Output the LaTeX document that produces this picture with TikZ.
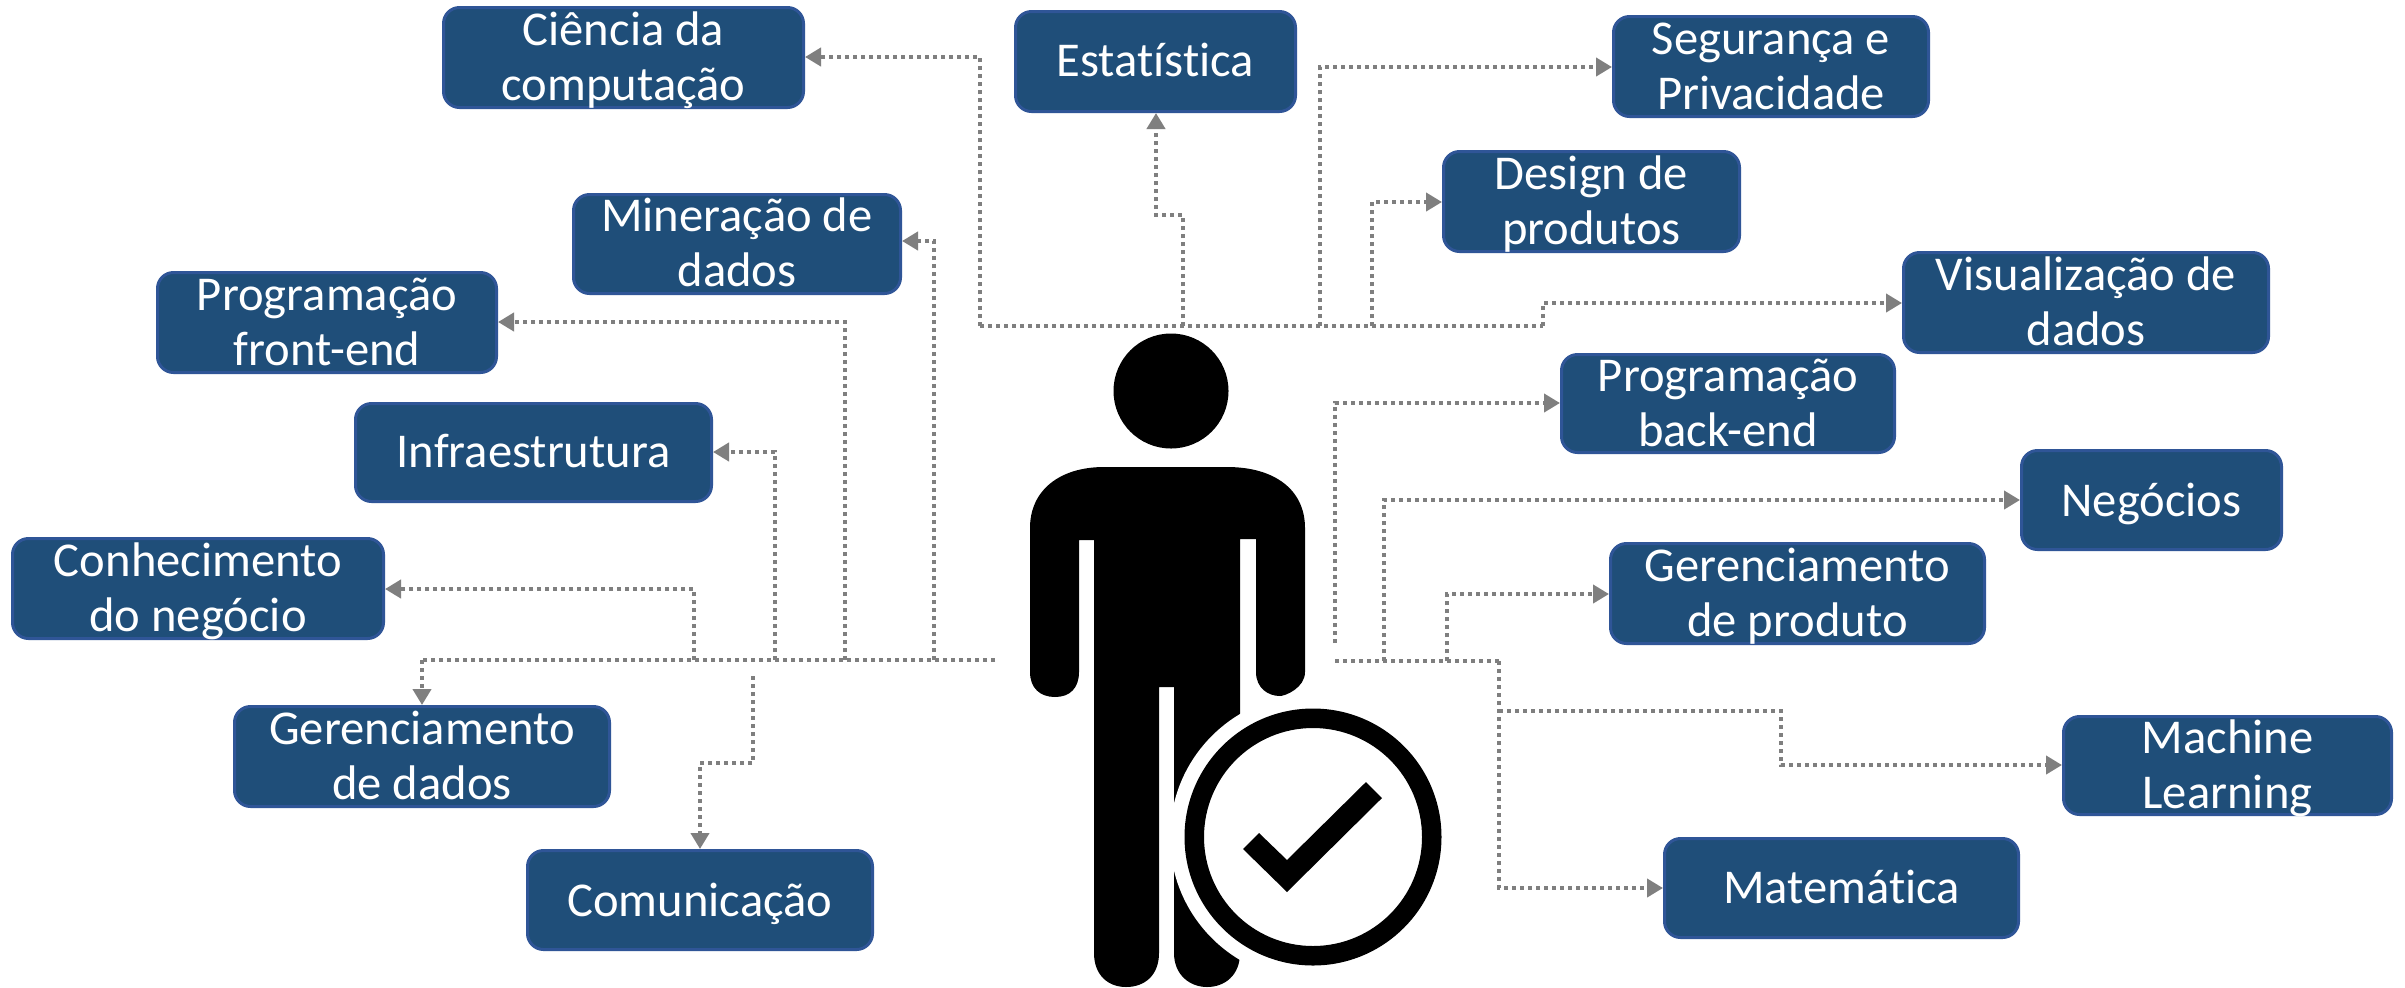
\documentclass[tikz,border=0pt]{standalone}
\usepackage{fontspec}
\setmainfont[Ligatures=NoCommon]{Carlito}
\usetikzlibrary{arrows.meta}
\definecolor{boxfill}{RGB}{31,78,121}
\definecolor{boxedge}{RGB}{47,85,151}
\definecolor{conncol}{RGB}{127,127,127}
\tikzset{
  box/.style={draw=boxedge,fill=boxfill,line width=1.5pt,rounded corners=8pt,text=white,align=center,
    inner xsep=0pt,inner ysep=-4pt,outer sep=0.75pt,font=\fontsize{24.3}{27.5}\selectfont},
  conn/.style={draw=conncol,line width=2pt,dash pattern=on 2pt off 2pt},
  arr/.style={conn,-{Triangle[length=8pt,width=9pt,fill=conncol,sep=0pt]}},
}
\newcommand\bx[7]{\node[box,minimum width={(#4-#2)*0.5pt-1.5pt},minimum height={(#5-#3)*0.5pt-1.5pt}] (#1) at ({(#2+#4)/2},{(#3+#5)/2}) {\rule{0pt}{\dimexpr20pt+#7pt\relax}#6\rule[-5pt]{0pt}{0pt}};}
\begin{document}
\begin{tikzpicture}[x=0.5pt,y=-0.5pt]
\useasboundingbox (0,0) rectangle (2405,987);
\fill[white] (0,0) rectangle (2405,987);
% person
\fill[black] (1171,391) circle [radius=57.5];
\fill[black] (1104,467) -- (1227,467) .. controls (1275,467) and (1305,490) .. (1305,528) -- (1305,672)
  .. controls (1305,688) and (1285,696) .. (1280,696) .. controls (1268,696) and (1256,688) .. (1256,672)
  -- (1256,539) -- (1240,539) -- (1240,953) .. controls (1240,975) and (1225,987) .. (1207,987)
  .. controls (1190,987) and (1174,975) .. (1174,953) -- (1174,687) -- (1159,687) -- (1159,953)
  .. controls (1159,975) and (1145,987) .. (1126,987) .. controls (1108,987) and (1094,975) .. (1094,953)
  -- (1094,540) -- (1079,540) -- (1079,672) .. controls (1079,688) and (1070,697) .. (1055,697)
  .. controls (1040,697) and (1030,688) .. (1030,672) -- (1030,528) .. controls (1030,490) and (1060,467) .. (1104,467) -- cycle;
\fill[white] (1313,837) circle [radius=143];
\fill[black,even odd rule] (1313,837) circle [radius=128.5] (1313,837) circle [radius=109];
\fill[black] (1243,849) -- (1259,833) -- (1287,860) -- (1366,782) -- (1382,798) -- (1287,892) -- cycle;
% boxes
\bx{ci}{442}{6}{805}{109}{Ciência da\\computação}{0}
\bx{es}{1014}{10}{1297}{113}{Estatística}{0}
\bx{se}{1612}{15}{1930}{118}{Segurança e\\Privacidade}{0}
\bx{de}{1442}{150}{1741}{253}{Design de\\produtos}{0}
\bx{vi}{1902}{251}{2270}{354}{Visualização de\\dados}{0}
\bx{ba}{1560}{353}{1896}{454}{Programação\\back-end}{0}
\bx{ne}{2020}{449}{2283}{551}{Negócios}{1}
\bx{gp}{1609}{542}{1986}{645}{Gerenciamento\\de produto}{0}
\bx{ma}{2062}{715}{2393}{816}{Machine\\Learning}{0}
\bx{mt}{1663}{837}{2020}{939}{Matemática}{0}
\bx{mi}{572}{193}{902}{295}{Mineração de\\dados}{0}
\bx{fr}{156}{271}{498}{374}{Programação\\front-end}{0}
\bx{in}{354}{402}{713}{503}{Infraestrutura}{0}
\bx{co}{11}{537}{385}{640}{Conhecimento\\do negócio}{0}
\bx{gd}{233}{705}{611}{808}{Gerenciamento\\de dados}{0}
\bx{cm}{526}{849}{874}{951}{Comunicação}{1}
% junctions
\coordinate (tL) at (980,326);
\coordinate (tE) at (1183,326);
\coordinate (eB) at (1156,215);
\coordinate (tS) at (1320,326);
\coordinate (tD) at (1372,326);
\coordinate (tV) at (1543,326);
\coordinate (lR) at (995,660);
\coordinate (lG) at (422,660);
\coordinate (lC) at (694,660);
\coordinate (lI) at (775,660);
\coordinate (lF) at (845,660);
\coordinate (lM) at (934,660);
\coordinate (cT) at (753,676);
\coordinate (cB) at (700,763);
\coordinate (rB) at (1335,643);
\coordinate (rL) at (1335,661);
\coordinate (rN) at (1384,661);
\coordinate (rP) at (1447,661);
\coordinate (rD) at (1499,661);
\coordinate (rM) at (1499,711);
\coordinate (mB) at (1781,711);
% connectors
\draw[conn] (tL) -- (tV);
\draw[arr] (tL) |- (ci.east |- 0,57);
\draw[arr] (tE) |- (eB) -- (eB |- es.south);
\draw[arr] (tS) |- (se.west |- 0,67);
\draw[arr] (tD) |- (de.west |- 0,202);
\draw[arr] (tV) |- (1800,303) -- (vi.west |- 0,303);
\draw[conn] (lR) -- (lG);
\draw[arr] (lG) -- (lG |- gd.north);
\draw[arr] (lC) |- (co.east |- 0,589);
\draw[arr] (lI) |- (in.east |- 0,452);
\draw[arr] (lF) |- (fr.east |- 0,322);
\draw[arr] (lM) |- (mi.east |- 0,241);
\draw[arr] (cT) |- (cB) -- (cB |- cm.north);
\draw[arr] (rB) |- (ba.west |- 0,403);
\draw[conn] (rL) -- (rD);
\draw[arr] (rN) |- (ne.west |- 0,500);
\draw[arr] (rP) |- (gp.west |- 0,594);
\draw[arr] (rD) |- (mt.west |- 0,888);
\draw[arr] (rM) -- (mB) |- (ma.west |- 0,765);
\end{tikzpicture}
\end{document}
